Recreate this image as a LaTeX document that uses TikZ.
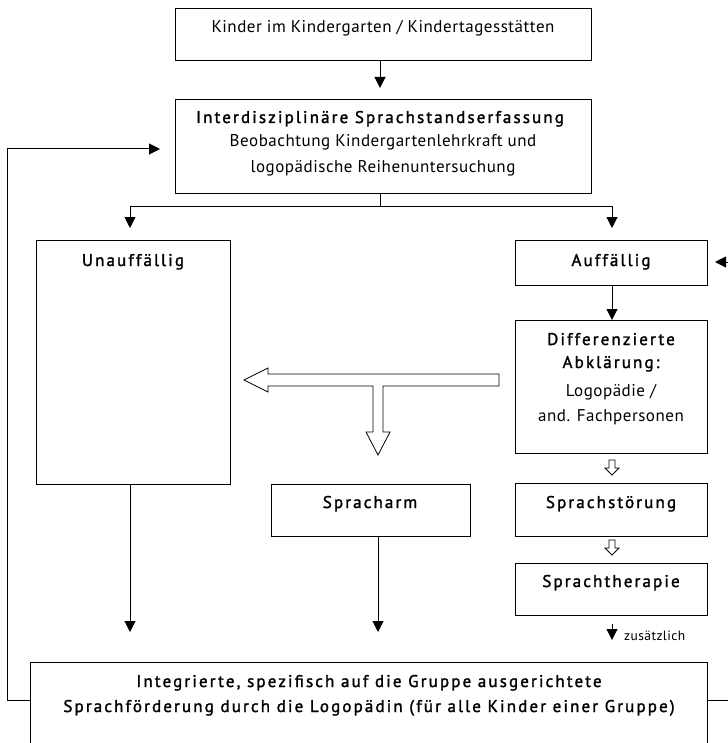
\documentclass[tikz,border=0pt]{standalone}
\usepackage{fontspec}
\setmainfont{PT Sans}[LetterSpace=3]
\newfontfamily\spaced[LetterSpace=12.5,FakeBold=1.6]{PT Sans}
\usetikzlibrary{arrows.meta}
\begin{document}
\begin{tikzpicture}[x=1pt,y=-1pt,
  box/.style={draw, line width=1pt, anchor=north west, inner sep=0pt},
  txt/.style={font=\fontsize{17}{20}\selectfont, inner sep=0pt, anchor=base, align=center},
  stxt/.style={font=\spaced\fontsize{17}{20}\selectfont, inner sep=0pt, anchor=base, align=center},
  arr/.style={line width=1pt, -{Triangle[length=11pt,width=11pt]}},
  ln/.style={line width=1pt},
  hollow/.style={draw, line width=0.8pt, fill=white}]
\useasboundingbox (0,0) rectangle (727,743);
% boxes
\node[box, minimum width=416pt, minimum height=52pt] (b1) at (175,8) {};
\node[box, minimum width=416pt, minimum height=94pt] (b2) at (175,99) {};
\node[box, minimum width=194pt, minimum height=244pt] (un) at (36,240) {};
\node[box, minimum width=192pt, minimum height=45pt] (au) at (515,240) {};
\node[box, minimum width=192pt, minimum height=133pt] (di) at (515,320) {};
\node[box, minimum width=199pt, minimum height=52pt] (sa) at (271,484) {};
\node[box, minimum width=192pt, minimum height=53pt] (ss) at (515,483) {};
\node[box, minimum width=192pt, minimum height=52pt] (st) at (515,563) {};
\node[box, minimum width=677pt, minimum height=110pt] (bot) at (30,662) {};
% texts
\node[txt] (t1) at (383,33) {Kinder im Kindergarten / Kindertagesstätten};
\node[stxt] (t2a) at (380,123) {Interdisziplinäre Sprachstandserfassung};
\node[txt] (t2b) at (383,147) {Beobachtung Kindergartenlehrkraft und};
\node[txt] (t2c) at (383,173) {logopädische Reihenuntersuchung};
\node[stxt] (tun) at (133,266) {Unauffällig};
\node[stxt] (tau) at (611,266) {Auffällig};
\node[stxt] (tdi1) at (611,345) {Differenzierte};
\node[stxt] (tdi2) at (611,368) {Abklärung:};
\node[txt] (tdi3) at (611,396) {Logopädie /};
\node[txt] (tdi4) at (611,421) {and. Fachpersonen};
\node[stxt] (tsa) at (370,508) {Spracharm};
\node[stxt] (tss) at (611,508) {Sprachstörung};
\node[stxt] (tst) at (611,587) {Sprachtherapie};
\node[txt, font=\fontsize{13.5}{15}\selectfont, anchor=base west] (tz) at (624,640) {zusätzlich};
\node[stxt] (tb1) at (369,687) {Integrierte, spezifisch auf die Gruppe ausgerichtete};
\node[stxt] (tb2) at (369,712) {Sprachförderung durch die Logopädin (für alle Kinder einer Gruppe)};
% connectors
\draw[arr] (b1.south -| 380,0) -- (380,88);
\coordinate (split) at (380,207);
\draw[ln] (b2.south -| split) -- (split);
\draw[arr] (split) -- (130,207) -- (130,228);
\draw[arr] (split) -- (612,207) -- (612,228);
\draw[arr] (au.south -| 612,0) -- (di.north -| 612,0);
\draw[arr] (un.south -| 130,0) -- (130,632);
\draw[arr] (sa.south -| 378,0) -- (378,632);
\draw[arr] (st.south -| 612,0) ++(0,8) -- (612,640);
\coordinate (lc) at (7,700);
\draw[arr] (bot.west |- lc) -- (lc) -- (7,149) -- (160,149);
\coordinate (rc) at (735,700);
\draw[ln] (bot.east |- rc) -- (rc);
\draw[arr] (735,262) -- (715,262);
% hollow arrows
\draw[hollow] (499,374) -- (268,374) -- (268,368) -- (244,380) -- (268,392) -- (268,386)
  -- (373,386) -- (373,432) -- (366,432) -- (378,455) -- (390,432) -- (383,432) -- (383,386)
  -- (499,386) -- cycle;
\draw[hollow] (609,460) -- (615,460) -- (615,468) -- (619,468) -- (612,475) -- (605,468) -- (609,468) -- cycle;
\draw[hollow] (609,540) -- (615,540) -- (615,548) -- (619,548) -- (612,555) -- (605,548) -- (609,548) -- cycle;
\end{tikzpicture}
\end{document}
